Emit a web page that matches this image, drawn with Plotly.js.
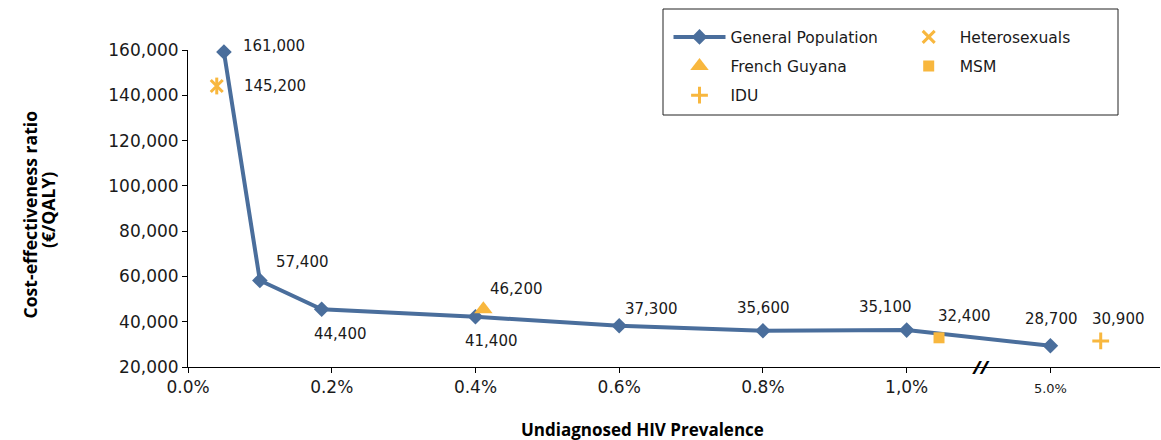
<!DOCTYPE html>
<html>
<head>
<meta charset="utf-8">
<script src="https://cdn.plot.ly/plotly-3.0.1.min.js"></script>
<style>html,body{margin:0;padding:0;background:#fff;}#chart{width:1161px;height:440px;}</style>
</head>
<body>
<div id="chart"></div>
<script>
// x positions on the (broken) prevalence axis; 5.0% is drawn after the break
const genPopX = [0.05, 0.1, 0.186, 0.4, 0.6, 0.8, 1.0, 1.2];
const genPopY = [159100, 58200, 45500, 42200, 38200, 36000, 36300, 29400];
const genPopLabels = ['161,000', '57,400', '44,400', '41,400', '37,300', '35,600', '35,100', '28,700'];

const heteroX = [0.04];
const heteroY = [144100];
const heteroLabels = ['145,200'];

const guyanaX = [0.411];
const guyanaY = [45500];
const guyanaLabels = ['46,200'];

const msmX = [1.045];
const msmY = [32900];
const msmLabels = ['32,400'];

const iduX = [1.27];
const iduY = [31500];
const iduLabels = ['30,900'];

const xTickVals = [0, 0.2, 0.4, 0.6, 0.8, 1.0, 1.2];
const xTickText = ['0.0%', '0.2%', '0.4%', '0.6%', '0.8%', '1,0%', '<span style="font-size:13px">5.0%</span>'];

const BLUE = '#4a6e9c';
const ORANGE = '#f8b73e';
const FONT = 'DejaVu Sans, Open Sans, sans-serif';
const TFONT = 'Open Sans, sans-serif';

const traces = [
  {name: 'General Population', legend: 'legend', legendgroup: 'g1', x: genPopX, y: genPopY, type: 'scatter', mode: 'lines+markers',
   line: {color: BLUE, width: 4}, marker: {symbol: 'diamond', size: 12, color: BLUE}, cliponaxis: false},
  {name: 'Heterosexuals', legend: 'legend2', legendgroup: 'g2', x: heteroX, y: heteroY, type: 'scatter', mode: 'markers',
   marker: {symbol: 'x-thin-open', size: 12, color: ORANGE, line: {color: ORANGE, width: 3}}, cliponaxis: false},
  {name: 'French Guyana', legend: 'legend', legendgroup: 'g3', x: guyanaX, y: guyanaY, type: 'scatter', mode: 'markers',
   marker: {symbol: 'triangle-up', size: 16, color: ORANGE}, cliponaxis: false},
  {name: 'MSM', legend: 'legend2', legendgroup: 'g4', x: msmX, y: msmY, type: 'scatter', mode: 'markers',
   marker: {symbol: 'square', size: 11, color: ORANGE}, cliponaxis: false},
  {name: 'IDU', legend: 'legend', legendgroup: 'g5', x: iduX, y: iduY, type: 'scatter', mode: 'markers',
   marker: {symbol: 'cross-thin-open', size: 12, color: ORANGE, line: {color: ORANGE, width: 3}}, cliponaxis: false},
  {name: 'Heterosexuals', x: heteroX, y: heteroY, type: 'scatter', mode: 'markers', showlegend: false,
   marker: {symbol: 'line-ns-open', size: 12, color: ORANGE, line: {color: ORANGE, width: 3}}, cliponaxis: false}
];

// label offsets (style): [dx, dy] in px from marker, text left-anchored
function labelAnns(xs, ys, labels, offs) {
  return xs.map((x, i) => ({
    x: x, y: ys[i], xref: 'x', yref: 'y', text: labels[i], showarrow: false,
    xanchor: 'left', yanchor: 'middle', xshift: offs[i][0], yshift: offs[i][1],
    font: {family: FONT, size: 15, color: '#1a1a1a'}
  }));
}
const genOffs = [[17, 6], [14, 19], [-10, -25], [-12, -24], [4, 17], [-28, 23], [-50, 23], [-27, 27]];
let annotations = []
  .concat(labelAnns(genPopX, genPopY, genPopLabels, genOffs))
  .concat(labelAnns(heteroX, heteroY, heteroLabels, [[25, 0]]))
  .concat(labelAnns(guyanaX, guyanaY, guyanaLabels, [[5, 20]]))
  .concat(labelAnns(msmX, msmY, msmLabels, [[-3, 22]]))
  .concat(labelAnns(iduX, iduY, iduLabels, [[-11, 22]]));

// pixel -> paper helpers (plot area 188..1160 x 50..367)
const px = v => (v - 188) / 972;
const py = v => (367 - v) / 317;

// axis break mark
annotations.push({x: 1.104, y: 0, xref: 'x', yref: 'paper', text: '<b><i>//</i></b>', showarrow: false,
  xanchor: 'center', yanchor: 'middle', font: {family: 'Open Sans, sans-serif', size: 18, color: '#000'}});
// axis titles
annotations.push({x: px(642.5), y: py(429), xref: 'paper', yref: 'paper', text: '<b>Undiagnosed HIV Prevalence</b>',
  showarrow: false, xanchor: 'center', yanchor: 'middle', font: {family: TFONT, size: 17, color: '#000'}});
annotations.push({x: px(29), y: py(214.5), xref: 'paper', yref: 'paper', text: '<b>Cost-effectiveness ratio</b>',
  showarrow: false, textangle: -90, xanchor: 'center', yanchor: 'middle', font: {family: TFONT, size: 17.6, color: '#000'}});
annotations.push({x: px(47.5), y: py(210.5), xref: 'paper', yref: 'paper', text: '<b>(€/QALY)</b>',
  showarrow: false, textangle: -90, xanchor: 'center', yanchor: 'middle', font: {family: TFONT, size: 17.6, color: '#000'}});

const legendBase = {xanchor: 'left', yanchor: 'top', borderwidth: 0, bgcolor: 'rgba(0,0,0,0)',
  font: {family: FONT, size: 15.5, color: '#1a1a1a'}, itemwidth: 52, traceorder: 'grouped', tracegroupgap: 6};

const layout = {
  width: 1161, height: 440,
  margin: {l: 188, r: 1, t: 50, b: 73},
  paper_bgcolor: '#fff', plot_bgcolor: '#fff',
  font: {family: FONT, color: '#1a1a1a'},
  showlegend: true,
  legend: Object.assign({}, legendBase, {x: px(668.5), y: 1 + (50 - 20.3) / 317}),
  legend2: Object.assign({}, legendBase, {x: px(897.7), y: 1 + (50 - 20.3) / 317}),
  shapes: [{type: 'rect', xref: 'paper', yref: 'paper', x0: px(663), x1: px(1118), y0: py(115), y1: py(9),
    line: {color: '#222', width: 1}, fillcolor: 'rgba(0,0,0,0)', layer: 'below'}],
  xaxis: {range: [0, 1.3525], tickvals: xTickVals, ticktext: xTickText, showgrid: false, zeroline: false,
    showline: true, linecolor: '#000', linewidth: 1, ticks: 'outside', ticklen: 5, tickcolor: '#000',
    tickfont: {family: FONT, size: 17, color: '#1a1a1a'}},
  yaxis: {range: [20000, 160000], dtick: 20000, tickformat: ',d', showgrid: false, zeroline: false,
    showline: true, linecolor: '#000', linewidth: 1, ticks: 'outside', ticklen: 5, tickcolor: '#000',
    tickfont: {family: FONT, size: 17, color: '#1a1a1a'}},
  annotations: annotations
};

Plotly.newPlot('chart', traces, layout, {displayModeBar: false, staticPlot: true});
</script>
</body>
</html>
